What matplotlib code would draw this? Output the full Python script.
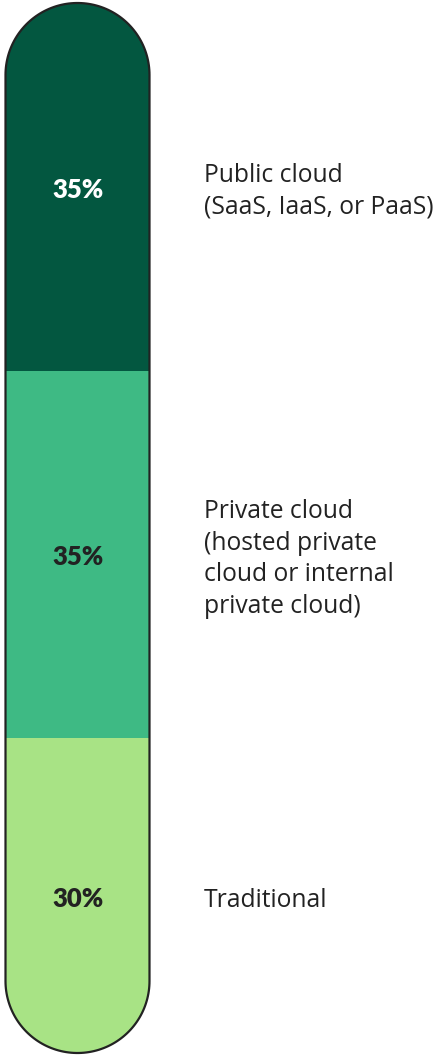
import matplotlib
matplotlib.use("Agg")
import numpy as np
import matplotlib.pyplot as plt
from matplotlib.patches import Polygon

categories = ["Public cloud\n(SaaS, IaaS, or PaaS)",
              "Private cloud\n(hosted private\ncloud or internal\nprivate cloud)",
              "Traditional"]
values = [35, 35, 30]
value_labels = ["35%", "35%", "30%"]
colors = ["#035740", "#3EBA84", "#A8E385"]
value_text_colors = ["#FFFFFF", "#222222", "#222222"]

LABEL_FONT = ["Open Sans", "DejaVu Sans"]
VALUE_FONT = ["Lato", "DejaVu Sans"]

W, H = 445, 1055
fig = plt.figure(figsize=(W / 100, H / 100), dpi=100)
ax = fig.add_axes([0, 0, 1, 1])
ax.set_xlim(0, W)
# y axis in percent: 0..100 maps to pixel 3..1053 (top to bottom)
top_px, bot_px = 3, 1053
ppu = (bot_px - top_px) / 100.0
ax.set_ylim((H - top_px) / ppu, -top_px / ppu)
ax.axis("off")

x_left, bar_w = 5.5, 144
xc = x_left + bar_w / 2
r = bar_w / 2

# pill outline (semicircular ends), radius in pixels converted to percent units on y
t_top = np.linspace(np.pi, 2 * np.pi, 90)
t_bot = np.linspace(0, np.pi, 90)
top_pts = np.column_stack([xc + r * np.cos(t_top), r / ppu + (r / ppu) * np.sin(t_top)])
bot_pts = np.column_stack([xc + r * np.cos(t_bot), 100 - r / ppu + (r / ppu) * np.sin(t_bot)])
pill = Polygon(np.vstack([top_pts, bot_pts]), closed=True, facecolor="none",
               edgecolor="#222222", linewidth=1.6, zorder=3, joinstyle="round")
ax.add_patch(pill)

bottom = 0
for cat, v, lab, c, tc in zip(categories, values, value_labels, colors, value_text_colors):
    bars = ax.bar(xc, v, width=bar_w, bottom=bottom, color=c, edgecolor="none", zorder=2)
    for b in bars:
        b.set_clip_path(pill)
    mid = bottom + v / 2
    ax.text(xc + 0.5, mid + 0.3, lab, ha="center", va="center", color=tc,
            fontsize=18.5, fontweight="heavy", family=VALUE_FONT, zorder=4)
    ax.text(204, mid + 0.45, cat, ha="left", va="center", color="#222222",
            fontsize=17.7, family=LABEL_FONT, linespacing=1.36, zorder=4)
    bottom += v

fig.savefig("out.png", dpi=100)
